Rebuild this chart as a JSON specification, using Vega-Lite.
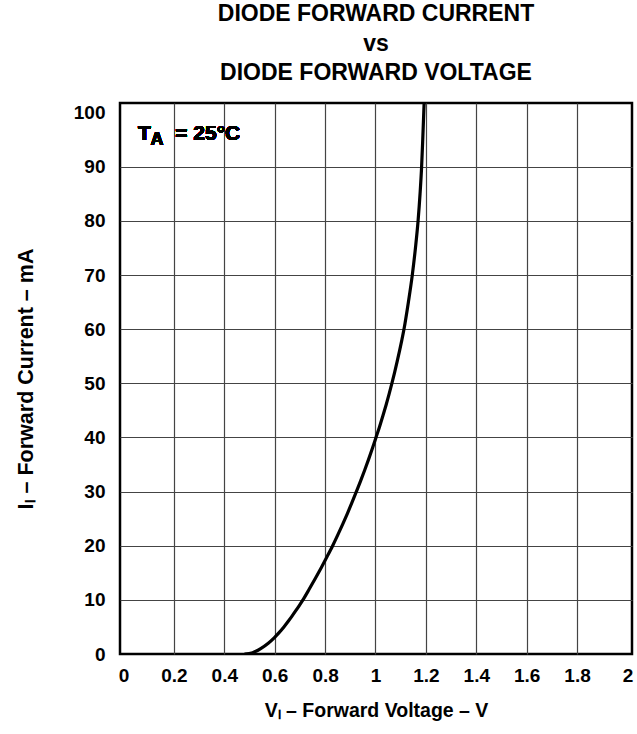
{
  "$schema": "https://vega.github.io/schema/vega-lite/v6.json",
  "width": 512,
  "height": 551,
  "autosize": {"type": "none"},
  "padding": {"left": 120, "top": 103, "right": 5, "bottom": 80},
  "background": "white",
  "config": {
    "font": "Liberation Sans",
    "view": {"stroke": "black", "strokeWidth": 2.5},
    "axis": {
      "labelFont": "Liberation Sans", "labelFontWeight": "bold", "labelFontSize": 19, "labelColor": "black",
      "titleFont": "Liberation Sans", "titleFontWeight": "bold", "titleFontSize": 19.5, "titleColor": "black",
      "domain": false, "ticks": false, "gridColor": "#444", "gridWidth": 1.2
    }
  },
  "title": {
    "text": ["DIODE FORWARD CURRENT", "vs", "DIODE FORWARD VOLTAGE"],
    "font": "Liberation Sans", "fontWeight": "bold", "fontSize": 23, "lineHeight": 29.5,
    "color": "black", "anchor": "middle", "offset": 18
  },
  "data": {
    "values": [
      {"v": 0.48, "i": 0},
      {"v": 0.5122, "i": 0.25},
      {"v": 0.5253, "i": 0.5},
      {"v": 0.5443, "i": 1},
      {"v": 0.5744, "i": 2},
      {"v": 0.5979, "i": 3},
      {"v": 0.6182, "i": 4},
      {"v": 0.6365, "i": 5},
      {"v": 0.6530, "i": 6},
      {"v": 0.6687, "i": 7},
      {"v": 0.6836, "i": 8},
      {"v": 0.6981, "i": 9},
      {"v": 0.7120, "i": 10},
      {"v": 0.7372, "i": 12},
      {"v": 0.7616, "i": 14},
      {"v": 0.7852, "i": 16},
      {"v": 0.8080, "i": 18},
      {"v": 0.8300, "i": 20},
      {"v": 0.8504, "i": 22},
      {"v": 0.8700, "i": 24},
      {"v": 0.8888, "i": 26},
      {"v": 0.9068, "i": 28},
      {"v": 0.9240, "i": 30},
      {"v": 0.9410, "i": 32},
      {"v": 0.9573, "i": 34},
      {"v": 0.9729, "i": 36},
      {"v": 0.9878, "i": 38},
      {"v": 1.0020, "i": 40},
      {"v": 1.0161, "i": 42},
      {"v": 1.0294, "i": 44},
      {"v": 1.0420, "i": 46},
      {"v": 1.0539, "i": 48},
      {"v": 1.0650, "i": 50},
      {"v": 1.0757, "i": 52},
      {"v": 1.0858, "i": 54},
      {"v": 1.0954, "i": 56},
      {"v": 1.1045, "i": 58},
      {"v": 1.1130, "i": 60},
      {"v": 1.1305, "i": 65},
      {"v": 1.1460, "i": 70},
      {"v": 1.1585, "i": 75},
      {"v": 1.1690, "i": 80},
      {"v": 1.1768, "i": 85},
      {"v": 1.1830, "i": 90},
      {"v": 1.1875, "i": 95},
      {"v": 1.1930, "i": 101.8}
    ]
  },
  "layer": [
    {
      "mark": {"type": "line", "color": "black", "strokeWidth": 3.2, "interpolate": "monotone", "clip": true},
      "encoding": {
        "x": {
          "field": "v", "type": "quantitative",
          "scale": {"domain": [-0.014, 2.018], "nice": false, "zero": false},
          "axis": {
            "values": [0, 0.2, 0.4, 0.6, 0.8, 1, 1.2, 1.4, 1.6, 1.8, 2],
            "format": "~g", "labelPadding": 12, "titlePadding": 16,
            "title": "Vₗ – Forward Voltage – V",
            "gridOpacity": {"condition": {"test": "datum.value <= 0 || datum.value >= 2", "value": 0}, "value": 1}
          }
        },
        "y": {
          "field": "i", "type": "quantitative",
          "scale": {"domain": [0, 101.8], "nice": false},
          "axis": {
            "values": [0, 10, 20, 30, 40, 50, 60, 70, 80, 90, 100],
            "format": "d", "labelPadding": 15, "titlePadding": 36, "titleFontSize": 21.5,
            "title": "Iₗ – Forward Current – mA",
            "gridOpacity": {"condition": {"test": "datum.value <= 0 || datum.value >= 100", "value": 0}, "value": 1}
          }
        }
      }
    },
    {
      "mark": {"type": "text", "text": "T", "fontSize": 21, "fontWeight": "bold", "align": "left", "baseline": "alphabetic", "color": "black"},
      "encoding": {"x": {"datum": 0.057}, "y": {"datum": 95}}
    },
    {
      "mark": {"type": "text", "text": "A", "fontSize": 18, "fontWeight": "bold", "align": "left", "baseline": "alphabetic", "color": "black"},
      "encoding": {"x": {"datum": 0.107}, "y": {"datum": 94.0}}
    },
    {
      "mark": {"type": "text", "text": "= 25°C", "fontSize": 21, "fontWeight": "bold", "align": "left", "baseline": "alphabetic", "color": "black"},
      "encoding": {"x": {"datum": 0.205}, "y": {"datum": 95}}
    }
  ]
}
